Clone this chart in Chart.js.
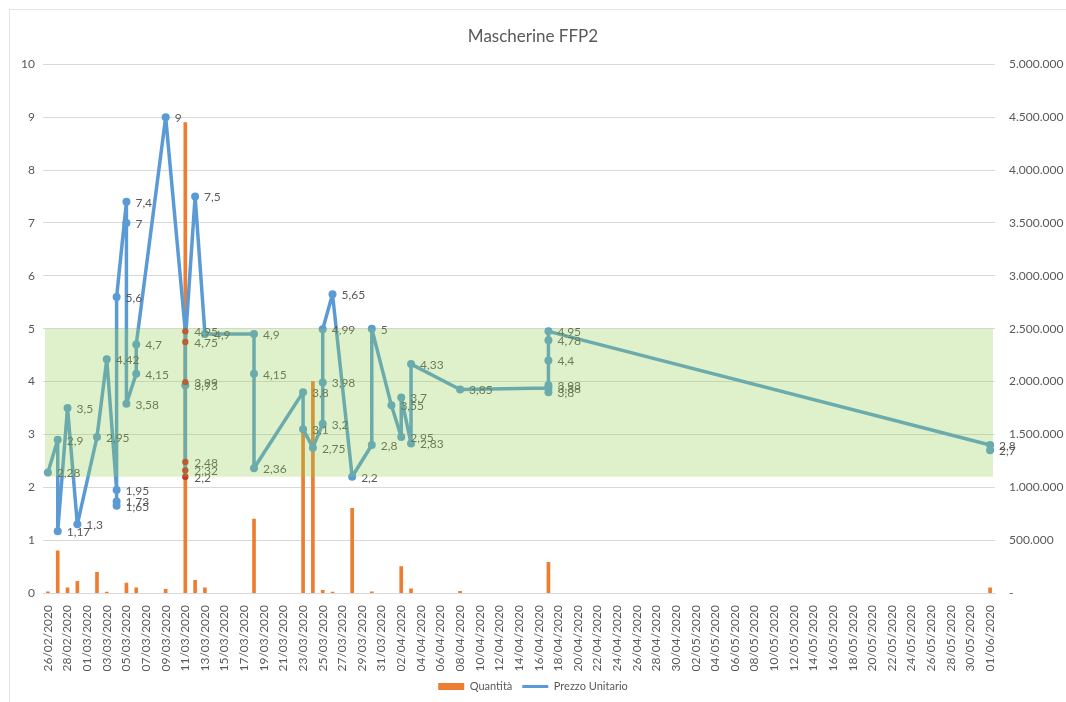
<!DOCTYPE html>
<html lang="it">
<head>
<meta charset="UTF-8">
<title>Mascherine FFP2</title>
<script src="https://cdn.jsdelivr.net/npm/chart.js"></script>
<style>
  html, body { margin: 0; padding: 0; background: #fff; overflow: hidden; }
  /* cornice sottile come nel grafico Excel */
  .cornice { position: absolute; left: 9px; top: 9px; width: 1100px; height: 800px; border: 1px solid #e4e4e4; }
  #grafico { position: absolute; left: 0; top: 0; }
</style>
</head>
<body>
<div class="cornice"></div>
<canvas id="grafico" width="1066" height="702"></canvas>

<script>
// --- Dati ---

// asse delle date: un giorno per categoria, dal 26/02/2020 al 01/06/2020
const primoGiorno = new Date(2020, 1, 26);
const numGiorni = 97;
const giorni = [];
for (let i = 0; i < numGiorni; i++) {
  const d = new Date(primoGiorno.getFullYear(), primoGiorno.getMonth(), primoGiorno.getDate() + i);
  giorni.push(String(d.getDate()).padStart(2, '0') + '/' + String(d.getMonth() + 1).padStart(2, '0') + '/' + d.getFullYear());
}

// Prezzo Unitario (asse sinistro), nell'ordine delle righe
const prezzoDate = [
  '26/02/2020', '27/02/2020', '27/02/2020', '28/02/2020', '29/02/2020', '02/03/2020', '03/03/2020',
  '04/03/2020', '04/03/2020', '04/03/2020', '04/03/2020', '05/03/2020', '05/03/2020', '05/03/2020',
  '06/03/2020', '06/03/2020', '09/03/2020',
  '11/03/2020', '11/03/2020', '11/03/2020', '11/03/2020', '11/03/2020', '11/03/2020', '11/03/2020',
  '12/03/2020', '13/03/2020', '18/03/2020', '18/03/2020', '18/03/2020', '23/03/2020', '23/03/2020',
  '24/03/2020', '25/03/2020', '25/03/2020', '25/03/2020', '26/03/2020', '28/03/2020', '30/03/2020',
  '30/03/2020', '01/04/2020', '02/04/2020', '02/04/2020', '03/04/2020', '03/04/2020', '08/04/2020',
  '17/04/2020', '17/04/2020', '17/04/2020', '17/04/2020', '17/04/2020', '17/04/2020',
  '01/06/2020', '01/06/2020'
];
const prezzoValori = [
  2.28, 2.9, 1.17, 3.5, 1.3, 2.95, 4.42,
  1.95, 1.73, 1.65, 5.6, 7.4, 7, 3.58,
  4.15, 4.7, 9,
  4.95, 2.2, 2.32, 2.48, 3.93, 3.99, 4.75,
  7.5, 4.9, 4.9, 4.15, 2.36, 3.8, 3.1,
  2.75, 3.2, 3.98, 4.99, 5.65, 2.2, 2.8,
  5, 3.55, 2.95, 3.7, 2.83, 4.33, 3.85,
  3.88, 3.8, 3.93, 4.4, 4.78, 4.95,
  2.8, 2.7
];

// Quantità (asse destro)
const quantitaDate = [
  '26/02/2020', '27/02/2020', '28/02/2020', '29/02/2020', '02/03/2020', '03/03/2020', '05/03/2020',
  '06/03/2020', '09/03/2020', '11/03/2020', '12/03/2020', '13/03/2020', '18/03/2020', '23/03/2020',
  '24/03/2020', '25/03/2020', '26/03/2020', '28/03/2020', '30/03/2020', '02/04/2020', '03/04/2020',
  '08/04/2020', '17/04/2020', '01/06/2020'
];
const quantitaValori = [
  10000, 400000, 50000, 110000, 195000, 8000, 95000,
  50000, 35000, 4450000, 120000, 50000, 700000, 1520000,
  2000000, 25000, 8000, 800000, 10000, 250000, 40000,
  15000, 290000, 50000
];

// fascia di riferimento (asse sinistro)
const fasciaMin = 2.2;
const fasciaMax = 5;

// scale
const sinistraMax = 10, sinistraPasso = 1;
const destraMax = 5000000, destraPasso = 500000;

// punti evidenziati in rosso (indici in prezzoValori)
const puntiRossi = [17, 18, 19, 20, 22, 23];

// --- Stile ---
const BLU = '#5B9BD5';
const ARANCIO = '#ED7D31';
const ROSSO = '#C8302C';
const GRIGIO = '#595959';
Chart.defaults.font.family = 'Lato, "Open Sans", sans-serif';
Chart.defaults.color = GRIGIO;

function virgola(v) { return String(v).replace('.', ','); }
function migliaia(v) { return v === 0 ? '-' : String(v).replace(/\B(?=(\d{3})+(?!\d))/g, '.'); }

// etichette dei dati e fascia verde disegnata sopra (trasparente)
const etichettePlugin = {
  id: 'etichette',
  afterDatasetsDraw(chart) {
    const ctx = chart.ctx;
    const meta = chart.getDatasetMeta(1);
    ctx.save();
    ctx.font = '12px Lato, "Open Sans", sans-serif';
    ctx.fillStyle = GRIGIO;
    ctx.textBaseline = 'middle';
    ctx.textAlign = 'left';
    meta.data.forEach((p, i) => {
      ctx.fillText(virgola(prezzoValori[i]), p.x + 9, p.y + 1);
    });

    const ys = chart.scales.y;
    const area = chart.chartArea;
    const top = ys.getPixelForValue(fasciaMax);
    const bot = ys.getPixelForValue(fasciaMin);
    ctx.fillStyle = 'rgba(146, 208, 80, 0.3)';
    ctx.fillRect(area.left + 2, top, area.right - area.left - 4, bot - top);
    ctx.restore();
  }
};

const ctx = document.getElementById('grafico').getContext('2d');
new Chart(ctx, {
  data: {
    labels: giorni,
    datasets: [
      {
        type: 'bar',
        label: 'Quantità',
        data: quantitaDate.map((d, i) => ({ x: d, y: quantitaValori[i] })),
        backgroundColor: ARANCIO,
        barThickness: 3,
        yAxisID: 'y1',
        order: 2
      },
      {
        type: 'line',
        label: 'Prezzo Unitario',
        data: prezzoDate.map((d, i) => ({ x: d, y: prezzoValori[i] })),
        borderColor: BLU,
        borderWidth: 3.5,
        borderJoinStyle: 'round',
        borderCapStyle: 'round',
        backgroundColor: BLU,
        pointBackgroundColor: prezzoValori.map((v, i) => puntiRossi.includes(i) ? ROSSO : BLU),
        pointBorderWidth: 0,
        pointRadius: prezzoValori.map((v, i) => puntiRossi.includes(i) ? 3.2 : 4),
        tension: 0,
        yAxisID: 'y',
        order: 1
      }
    ]
  },
  options: {
    responsive: false,
    animation: false,
    layout: { padding: { top: 0, bottom: 0, left: 0, right: 0 } },
    plugins: {
      title: {
        display: true,
        text: 'Mascherine FFP2',
        color: GRIGIO,
        font: { size: 17, weight: 'normal' },
        padding: { top: 26, bottom: 18 }
      },
      legend: {
        position: 'bottom',
        labels: {
          usePointStyle: true,
          pointStyleWidth: 26,
          boxHeight: 7,
          color: GRIGIO,
          font: { size: 11 },
          sort: (a, b) => a.datasetIndex - b.datasetIndex,
          generateLabels(chart) {
            const items = Chart.defaults.plugins.legend.labels.generateLabels(chart);
            items.forEach(it => {
              if (it.datasetIndex === 0) {
                it.pointStyle = 'rect';
              } else {
                it.pointStyle = 'line';
                it.strokeStyle = BLU;
                it.lineWidth = 3;
              }
            });
            return items;
          }
        }
      },
      tooltip: { enabled: false }
    },
    scales: {
      x: {
        type: 'category',
        offset: true,
        grid: { display: false },
        border: { color: '#d9d9d9' },
        ticks: {
          autoSkip: false,
          minRotation: 90,
          maxRotation: 90,
          padding: 4,
          font: { size: 12 },
          color: GRIGIO,
          callback: (v, i) => i % 2 === 0 ? giorni[i] : ''
        },
        afterFit(s) { s.height = 78; }
      },
      y: {
        position: 'left',
        min: 0,
        max: sinistraMax,
        grid: { color: '#d9d9d9', drawTicks: false },
        border: { display: false },
        ticks: { stepSize: sinistraPasso, padding: 8, font: { size: 12 }, color: GRIGIO },
        afterFit(s) { s.width = 43; }
      },
      y1: {
        position: 'right',
        min: 0,
        max: destraMax,
        grid: { display: false },
        border: { display: false },
        ticks: {
          stepSize: destraPasso,
          padding: 6,
          font: { size: 12 },
          color: GRIGIO,
          callback: v => migliaia(v)
        },
        afterFit(s) { s.width = 71; }
      }
    }
  },
  plugins: [etichettePlugin]
});
</script>
</body>
</html>
